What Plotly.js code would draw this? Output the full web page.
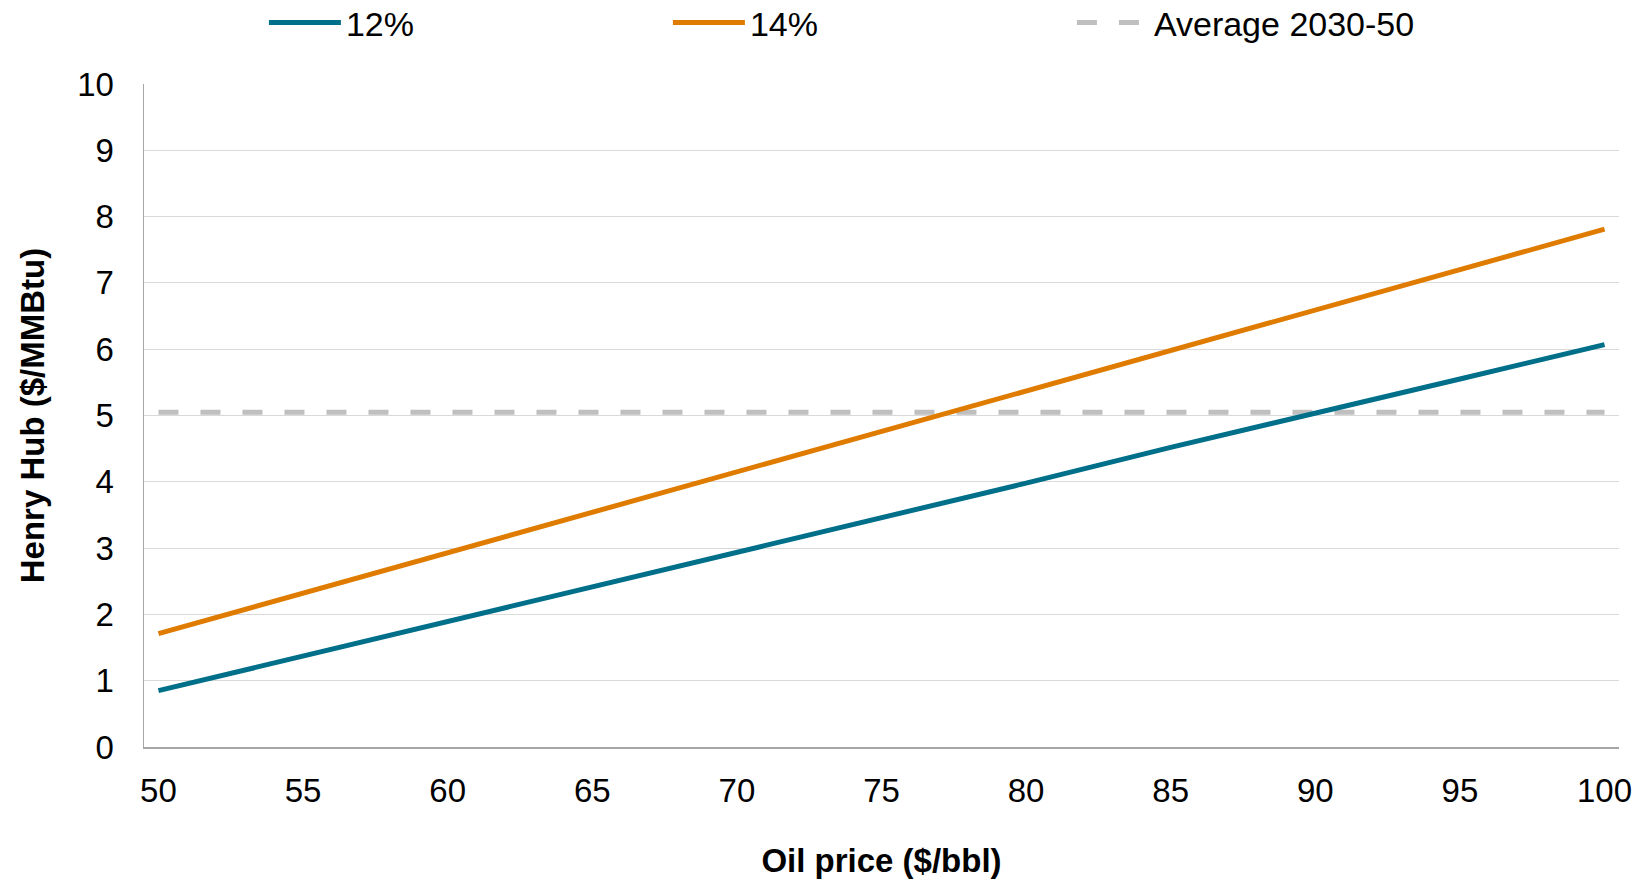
<!DOCTYPE html>
<html>
<head>
<meta charset="utf-8">
<script src="https://cdn.plot.ly/plotly-3.0.1.min.js"></script>
<style>
  html, body { margin: 0; padding: 0; background: #ffffff; }
  #chart { width: 1642px; height: 881px; }
</style>
</head>
<body>
<div id="chart"></div>
<script>
// Oil price ($/bbl)
const oilPrice = [50, 55, 60, 65, 70, 75, 80, 85, 90, 95, 100];
// Henry Hub ($/MMBtu) at 12% and 14%
const hh12 = [0.85, 1.37, 1.90, 2.42, 2.94, 3.46, 3.98, 4.52, 5.03, 5.55, 6.07];
const hh14 = [1.71, 2.32, 2.93, 3.54, 4.15, 4.77, 5.37, 5.98, 6.59, 7.20, 7.81];
// Average 2030-50 level
const avgLevel = 5.05;
const avgX = [oilPrice[0], oilPrice[oilPrice.length - 1]];
const avgY = [avgLevel, avgLevel];

const seriesNames = ['12%', '14%', 'Average 2030-50'];
const xTicks = [50, 55, 60, 65, 70, 75, 80, 85, 90, 95, 100];
const yTicks = [0, 1, 2, 3, 4, 5, 6, 7, 8, 9, 10];

const FONT = 'Liberation Sans, Arial, sans-serif';

const traces = [
  {
    x: avgX, y: avgY, name: seriesNames[2], mode: 'lines', legendrank: 3,
    line: { color: '#BFBFBF', width: 5, dash: '20px,22px' },
    hoverinfo: 'skip'
  },
  {
    x: oilPrice, y: hh12, name: seriesNames[0], mode: 'lines', legendrank: 1,
    line: { color: '#006F8A', width: 5 }
  },
  {
    x: oilPrice, y: hh14, name: seriesNames[1], mode: 'lines', legendrank: 2,
    line: { color: '#DF7C00', width: 5 }
  }
];

const layout = {
  width: 1642, height: 881,
  paper_bgcolor: '#ffffff', plot_bgcolor: '#ffffff',
  margin: { l: 144, r: 23, t: 84, b: 134, autoexpand: false },
  font: { family: FONT, size: 33, color: '#000000' },
  showlegend: true,
  legend: {
    orientation: 'h', x: 0.0813, xanchor: 'left', y: 1.092, yanchor: 'middle',
    traceorder: 'normal', entrywidth: 317, entrywidthmode: 'pixels',
    itemwidth: 72, font: { family: FONT, size: 34, color: '#000000' },
    bgcolor: 'rgba(0,0,0,0)'
  },
  xaxis: {
    range: [49.5, 100.5], tickvals: xTicks, ticktext: xTicks.map(String),
    showgrid: false, zeroline: false,
    showline: true, linecolor: '#A6A6A6', linewidth: 1.5,
    ticks: '', ticklabelstandoff: 14,
    tickfont: { family: FONT, size: 33, color: '#000000' },
    title: { text: 'Oil price ($/bbl)', standoff: 41,
             font: { family: FONT, size: 33, color: '#000000', weight: 'bold' } },
    fixedrange: true
  },
  yaxis: {
    range: [0, 10], tickvals: yTicks, ticktext: yTicks.map(String),
    showgrid: true, gridcolor: '#D9D9D9', gridwidth: 1,
    zeroline: false,
    showline: true, linecolor: '#A6A6A6', linewidth: 1.5,
    ticks: '', ticklabelstandoff: 22,
    tickfont: { family: FONT, size: 33, color: '#000000' },
    title: { text: 'Henry Hub ($/MMBtu)', standoff: 22,
             font: { family: FONT, size: 33, color: '#000000', weight: 'bold' } },
    fixedrange: true
  }
};

Plotly.newPlot('chart', traces, layout, { displayModeBar: false, staticPlot: true });
</script>
</body>
</html>
